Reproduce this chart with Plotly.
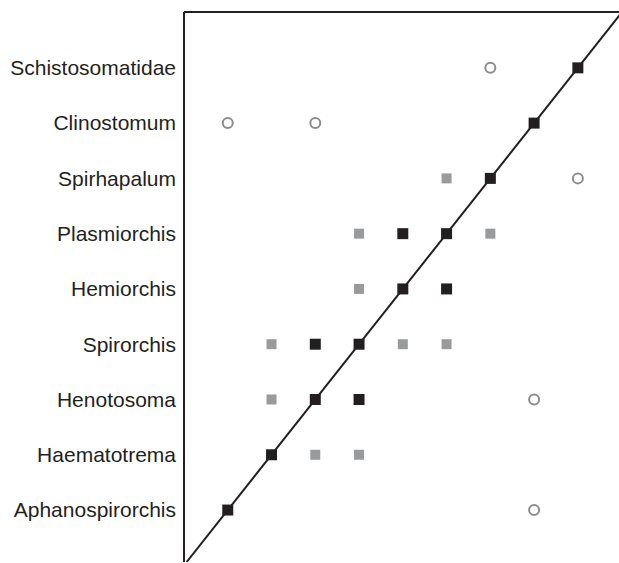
import plotly.graph_objects as go

genera = ["Aphanospirorchis", "Haematotrema", "Henotosoma", "Spirorchis",
          "Hemiorchis", "Plasmiorchis", "Spirhapalum", "Clinostomum",
          "Schistosomatidae"]

# black squares (column index, row index)
black_col = [0, 1, 2, 3, 2, 3, 4, 5, 4, 5, 6, 7, 8]
black_row = [0, 1, 2, 2, 3, 3, 4, 4, 5, 5, 6, 7, 8]

# grey squares
grey_col = [2, 3, 1, 1, 4, 5, 3, 3, 6, 5]
grey_row = [1, 1, 2, 3, 3, 3, 4, 5, 5, 6]

# open circles
circ_col = [7, 7, 8, 0, 2, 6]
circ_row = [0, 2, 6, 7, 7, 8]

n = len(genera)
fig = go.Figure()

fig.add_trace(go.Scatter(
    x=[-0.94, n + 0.1], y=[-0.94, n + 0.1], mode="lines",
    line=dict(color="#231f20", width=2), hoverinfo="skip", showlegend=False))

fig.add_trace(go.Scatter(
    x=grey_col, y=grey_row, mode="markers",
    marker=dict(symbol="square", size=10, color="#999a9c", line=dict(width=0)),
    showlegend=False))

fig.add_trace(go.Scatter(
    x=black_col, y=black_row, mode="markers",
    marker=dict(symbol="square", size=11, color="#231f20", line=dict(width=0)),
    showlegend=False))

fig.add_trace(go.Scatter(
    x=circ_col, y=circ_row, mode="markers",
    marker=dict(symbol="circle-open", size=10, color="#8c8c8e",
                line=dict(width=2, color="#8c8c8e")),
    showlegend=False))

# frame: left and top edges
fig.add_shape(type="line", xref="paper", yref="paper", x0=0, y0=0, x1=0, y1=1,
              line=dict(color="#231f20", width=2))
fig.add_shape(type="line", xref="paper", yref="paper", x0=0, y0=1, x1=1, y1=1,
              line=dict(color="#231f20", width=2))

fig.update_layout(
    width=619, height=563,
    margin=dict(l=184, r=0, t=12, b=1),
    paper_bgcolor="white", plot_bgcolor="white",
    xaxis=dict(range=[-1.0, n - 0.06], visible=False, showgrid=False,
               zeroline=False),
    yaxis=dict(range=[-0.94, n + 0.01], tickvals=list(range(n)),
               ticktext=genera, showgrid=False, zeroline=False,
               showline=False, ticks="", ticklabelstandoff=7,
               tickfont=dict(family="Liberation Sans, Arial, sans-serif",
                             size=21, color="#231f20")),
    showlegend=False,
)

fig.write_html("out.html")
